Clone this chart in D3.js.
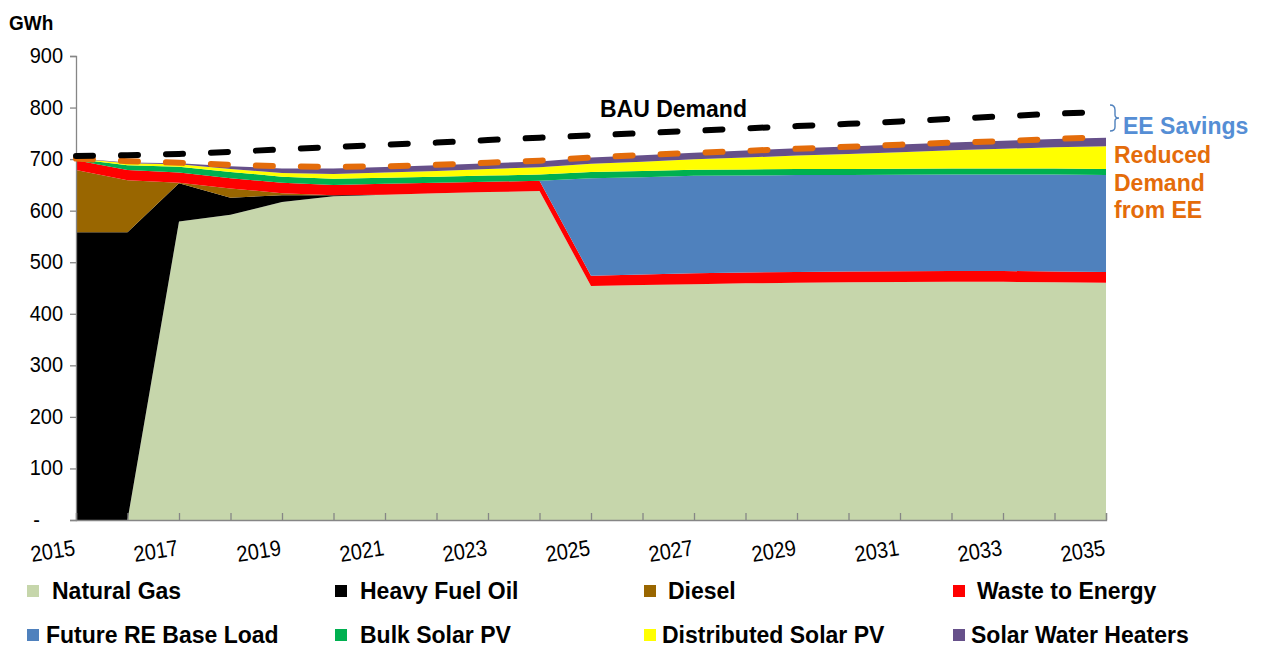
<!DOCTYPE html>
<html><head><meta charset="utf-8">
<script src="https://cdn.jsdelivr.net/npm/d3@7"></script>
<style>
body{margin:0;background:#fff;}
svg{display:block;font-family:"Liberation Sans",Arial,sans-serif;}
</style>
</head><body>
<svg id="c" width="1261" height="648"></svg>
<script>
// ---------- DATA ----------
const years = [2015,2016,2017,2018,2019,2020,2021,2022,2023,2024,2025,2026,2027,2028,2029,2030,2031,2032,2033,2034,2035];
const naturalGas         = [0,0,579,592,617,628,631,634,636,638,454,456,457.5,459,460,461,461.5,462,462,461,460];
const heavyFuelOil       = [558,558,74,33,13,2,0,0,0,0,0,0,0,0,0,0,0,0,0,0,0];
const diesel             = [121,101,1,18,4,0,0,0,0,0,0,0,0,0,0,0,0,0,0,0,0];
const wasteToEnergy      = [19,20,20,20,20,20,21,20,20,20,20,20,21,21,21,21,21,21,21,21,21];
const futureREBaseLoad   = [0,0,0,0,0,0,0,0,0,0,189,189,189,188,188,187,187,187,187,188,188];
const bulkSolarPV        = [2,9,11,12,12,12,12,12,12,12,12,12,12,12,12,12,12,12,12,12,12];
const distributedSolarPV = [1,4,5,6,7,9,10,11,13,14,16,18,20,23,26,29,32,35,38,41,44];
const solarWaterHeaters  = [0.5,1.5,2,5,9,11,10.5,11,11,11.5,12,12.5,13,13.5,14,14.5,15,15,15.5,16,16.5];
const bauDemand          = [706,707.5,710,714,719,723.5,728,732,737,741.5,746,750.5,755,759.5,764,768.5,773,778,783,788,792];
const reducedDemand      = [701,696,693,689,686,685,686,689,693,697,703,708,712,716,720,724,728,732,735,739,743];
const yTicks = [0,100,200,300,400,500,600,700,800,900];
const xTickLabels = [2015,2017,2019,2021,2023,2025,2027,2029,2031,2033,2035];
const seriesNames = ["Natural Gas","Heavy Fuel Oil","Diesel","Waste to Energy","Future RE Base Load","Bulk Solar PV","Distributed Solar PV","Solar Water Heaters"];
const seriesColors = ["#C6D6AB","#000000","#996600","#FF0000","#4F81BD","#00B050","#FFFF00","#66508A"];

// ---------- CHART ----------
const svg = d3.select("#c");
const x = d3.scaleLinear().domain([2015,2035]).range([76,1106]);
const y = d3.scaleLinear().domain([0,900]).range([520,56]);

const seriesArrays = [naturalGas,heavyFuelOil,diesel,wasteToEnergy,futureREBaseLoad,bulkSolarPV,distributedSolarPV,solarWaterHeaters];
const table = years.map((yr,i)=>{
  const row = {year: yr};
  seriesNames.forEach((n,k)=> row[n] = seriesArrays[k][i]);
  return row;
});
const stack = d3.stack().keys(seriesNames)(table);
const area = d3.area().x(d=>x(d.data.year)).y0(d=>y(d[0])).y1(d=>y(d[1]));

svg.append("g").selectAll("path").data(stack).join("path")
  .attr("d", area).attr("fill",(d,i)=>seriesColors[i]);

// axes
const axisColor = "#868686";
const yAxis = d3.axisLeft(y).tickValues(yTicks).tickSize(6).tickFormat("");
const gy = svg.append("g").attr("transform","translate(76,0)").call(yAxis);
gy.select(".domain").attr("stroke",axisColor).attr("stroke-width",1.3);
gy.selectAll(".tick line").attr("stroke",axisColor).attr("stroke-width",1.3);

svg.append("g").selectAll("text").data(yTicks).join("text")
  .attr("transform", d=>`translate(${d===0 ? 40 : 63},${y(d)+7}) scale(1,1.12)`)
  .attr("text-anchor","end")
  .style("font-size","20px").style("fill","#000")
  .text(d=> d===0 ? "-" : d);

const xAxis = d3.axisBottom(x).tickValues(years).tickSize(-7).tickFormat("");
const gx = svg.append("g").attr("transform","translate(0,520)").call(xAxis);
gx.select(".domain").attr("stroke",axisColor).attr("stroke-width",1.3);
gx.selectAll(".tick line").attr("stroke",axisColor).attr("stroke-width",1.3);

svg.append("g").selectAll("text").data(xTickLabels).join("text")
  .attr("transform", d=>`translate(${x(d)},555) rotate(-9) scale(1,1.12)`)
  .attr("text-anchor","end").style("font-size","20px").style("fill","#000").text(d=>d);

svg.append("text").attr("transform","translate(9,30) scale(1,1.1)").style("font-size","19px").attr("font-weight","bold").text("GWh");

// demand lines
const line = d3.line().x((d,i)=>x(years[i])).y(d=>y(d));
svg.append("path").datum(reducedDemand).attr("d",line).attr("fill","none")
  .attr("stroke","#E46C0A").attr("stroke-width",6).attr("stroke-linecap","round")
  .attr("stroke-dasharray","17,28");
svg.append("path").datum(bauDemand).attr("d",line).attr("fill","none")
  .attr("stroke","#000").attr("stroke-width",6).attr("stroke-linecap","round")
  .attr("stroke-dasharray","17,28");

// annotations
svg.append("text").attr("x",600).attr("y",117).style("font-size","23px").attr("font-weight","bold").text("BAU Demand");
svg.append("path").attr("d","M1110,105 Q1115,105 1115,110 L1115,115 Q1115,118 1119,118 Q1115,118 1115,121 L1115,127 Q1115,131 1110,131")
  .attr("fill","none").attr("stroke","#4F81BD").attr("stroke-width",1.4);
svg.append("text").attr("x",1123).attr("y",134).style("font-size","23px").attr("font-weight","bold").attr("fill","#558ED5").text("EE Savings");
["Reduced","Demand","from EE"].forEach((t,i)=>{
  svg.append("text").attr("x",1114).attr("y",163+i*27.7).style("font-size","23px").attr("font-weight","bold").attr("fill","#E46C0A").text(t);
});

// legend
const legCols = [27,335,644,953];
const legRows = [591,635];
const legTextOffset = [25,25,24,24,19,25,18,18];
seriesNames.forEach((n,i)=>{
  const cx = legCols[i%4], cy = legRows[Math.floor(i/4)];
  svg.append("rect").attr("x",cx).attr("y",cy-6).attr("width",12).attr("height",12).attr("fill",seriesColors[i]);
  svg.append("text").attr("x",cx+legTextOffset[i]).attr("y",cy+8).style("font-size","23px").attr("font-weight","bold").text(n);
});
</script>
</body></html>
